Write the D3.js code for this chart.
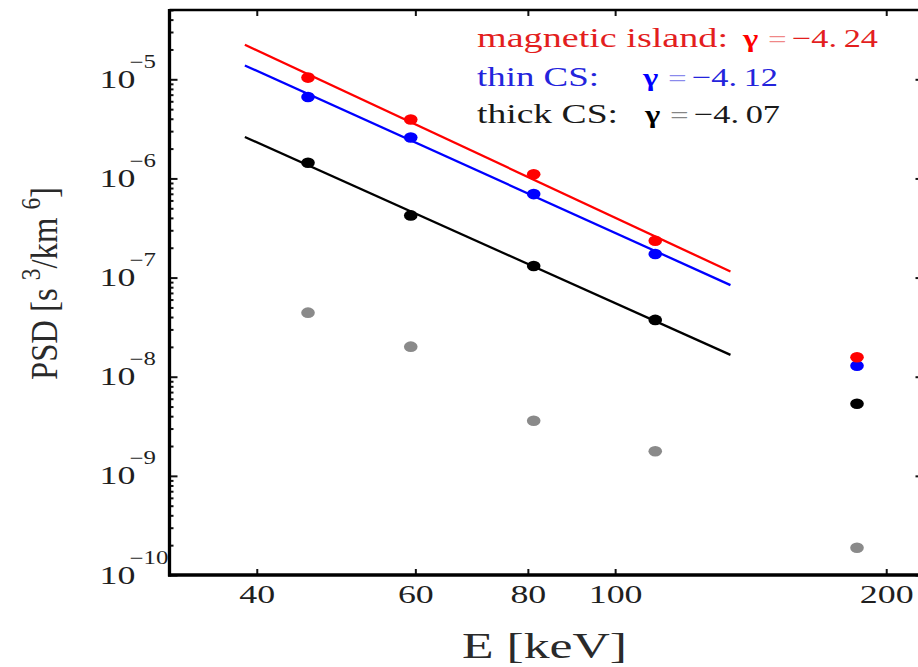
<!DOCTYPE html>
<html>
<head>
<meta charset="utf-8">
<script src="https://cdn.jsdelivr.net/npm/d3@7"></script>
<style>
  body { margin: 0; background: #fff; }
  svg { display: block; }
  text { font-family: "Liberation Serif", "Times New Roman", serif; }
</style>
</head>
<body>
<svg id="chart" width="918" height="667"></svg>
<script>
// channel energies [keV]
const energies = [45.6, 59.3, 81.2, 110.8, 185.6];

// phase space density per region [s^3/km^6]
const islandPSD = [1.04e-5, 3.93e-6, 1.10e-6, 2.35e-7, 1.57e-8];
const thinPSD   = [6.64e-6, 2.59e-6, 6.95e-7, 1.73e-7, 1.29e-8];
const thickPSD  = [1.44e-6, 4.24e-7, 1.31e-7, 3.74e-8, 5.33e-9];
const bgPSD     = [4.43e-8, 2.01e-8, 3.60e-9, 1.77e-9, 1.88e-10];

// power-law fit end points [keV, PSD]
const islandFit = [[38.8, 2.23e-5], [134.3, 1.15e-7]];
const thinFit   = [[38.8, 1.38e-5], [134.3, 8.4e-8]];
const thickFit  = [[38.8, 2.62e-6], [134.3, 1.66e-8]];

const legendNames = ['magnetic island:', 'thin CS:', 'thick CS:'];
const gammaValues = [['−4.', '24'], ['−4.', '12'], ['−4.', '07']];

const xTicks = [40, 60, 80, 100, 200];
const yTicks = [1e-10, 1e-9, 1e-8, 1e-7, 1e-6, 1e-5];

const svg = d3.select('#chart');
const stretch = 1.38; // the figure is wider than tall, glyphs too

const x = d3.scaleLog().domain([32, 220]).range([169.5, 923.5]);
const y = d3.scaleLog().domain([1e-10, 5e-5]).range([575, 10]);

const [x0, x1] = x.range();
const [y0, y1] = y.range();

const series = [
  { psd: islandPSD, fit: islandFit, color: '#ff0000', text: '#e31e1e' },
  { psd: thinPSD, fit: thinFit, color: '#0000ff', text: '#2424dc' },
  { psd: thickPSD, fit: thickFit, color: '#000000', text: '#1a1a1a' }
];

// fit lines
const line = d3.line().x(d => x(d[0])).y(d => y(d[1]));
series.forEach(s => {
  svg.append('path')
    .attr('d', line(s.fit))
    .attr('fill', 'none')
    .attr('stroke', s.color)
    .attr('stroke-width', 2.3);
});

// points
const allSets = [
  { psd: bgPSD, color: '#8a8a8a' },
  { psd: thickPSD, color: '#000' },
  { psd: thinPSD, color: '#0000ff' },
  { psd: islandPSD, color: '#ff0000' }
];
allSets.forEach(s => {
  svg.append('g').selectAll('ellipse')
    .data(energies)
    .enter()
    .append('ellipse')
    .attr('cx', d => x(d))
    .attr('cy', (d, i) => y(s.psd[i]))
    .attr('rx', 6.8)
    .attr('ry', 5.3)
    .attr('fill', s.color);
});

// axes, ticks pointing inward
const minorY = y.ticks().filter(v => !yTicks.includes(v));

function styleTicks(g) {
  g.select('.domain').remove();
  g.selectAll('.tick line').attr('stroke', '#111').attr('stroke-width', 2);
}

svg.append('g').attr('transform', `translate(${x0},0)`)
  .call(d3.axisLeft(y).tickValues(minorY).tickSize(-4).tickFormat(''))
  .call(styleTicks);
const yMajor = svg.append('g').attr('transform', `translate(${x0},0)`)
  .call(d3.axisLeft(y).tickValues(yTicks).tickSize(-8).tickFormat(''))
  .call(styleTicks);

svg.append('g').attr('transform', `translate(${x1},0)`)
  .call(d3.axisRight(y).tickValues(minorY).tickSize(-4).tickFormat(''))
  .call(styleTicks);
svg.append('g').attr('transform', `translate(${x1},0)`)
  .call(d3.axisRight(y).tickValues(yTicks).tickSize(-8).tickFormat(''))
  .call(styleTicks);

svg.append('g').attr('transform', `translate(0,${y1})`)
  .call(d3.axisTop(x).tickValues(xTicks).tickSize(-6).tickFormat(''))
  .call(styleTicks);

const xAxis = svg.append('g').attr('transform', `translate(0,${y0})`)
  .call(d3.axisBottom(x).tickValues(xTicks).tickSize(-6).tickPadding(10).tickFormat(d3.format('d')))
  .call(styleTicks);
xAxis.selectAll('.tick text')
  .attr('font-family', '"Liberation Serif", serif')
  .attr('font-size', 26)
  .attr('fill', '#1f1f1f')
  .attr('transform', `scale(${stretch},1)`);

// y tick labels as 10^n
yMajor.selectAll('.tick').each(function (d) {
  const t = d3.select(this);
  t.append('text')
    .attr('transform', `translate(-70,8) scale(${stretch},1)`)
    .attr('font-size', 26)
    .attr('text-anchor', 'start')
    .attr('fill', '#1f1f1f')
    .text('10');
  t.append('text')
    .attr('transform', `translate(-40,-12) scale(${stretch},1)`)
    .attr('font-size', 18)
    .attr('text-anchor', 'start')
    .attr('fill', '#1f1f1f')
    .text('−' + Math.round(-Math.log10(d)));
});

// frame
const frame = svg.append('g').attr('stroke', '#000');
frame.append('line').attr('x1', x0).attr('x2', x0).attr('y1', y1 - 1).attr('y2', y0 + 1.5).attr('stroke-width', 3.3);
frame.append('line').attr('x1', x0 - 1.5).attr('x2', x1).attr('y1', y0).attr('y2', y0).attr('stroke-width', 3.3);
frame.append('line').attr('x1', x0).attr('x2', x1).attr('y1', y1).attr('y2', y1).attr('stroke-width', 2.7);
frame.append('line').attr('x1', x1).attr('x2', x1).attr('y1', y1).attr('y2', y0).attr('stroke-width', 2.7);

// axis titles
svg.append('text')
  .attr('x', (x0 + x1) / 2 - 2)
  .attr('y', 658)
  .attr('text-anchor', 'middle')
  .attr('font-size', 35)
  .attr('fill', '#2a2a2a')
  .attr('textLength', 165)
  .attr('lengthAdjust', 'spacingAndGlyphs')
  .text('E  [keV]');

const yTitle = svg.append('g')
  .attr('transform', `translate(57,283.5) scale(${stretch},1) rotate(-90)`)
  .append('text')
  .attr('text-anchor', 'middle')
  .attr('font-size', 28)
  .attr('fill', '#2a2a2a')
  .attr('textLength', 193)
  .attr('lengthAdjust', 'spacingAndGlyphs');
yTitle.append('tspan').text('PSD [s ');
yTitle.append('tspan').attr('dy', -12).attr('font-size', 20).text('3');
yTitle.append('tspan').attr('dy', 12).text('/km ');
yTitle.append('tspan').attr('dy', -12).attr('font-size', 20).text('6');
yTitle.append('tspan').attr('dy', 12).text(']');

const legX = 477;
const legY = [47, 86, 123];
const nameWidth = [251, 122, 141];
const gammaX = [743, 643, 645];
series.forEach((s, i) => {
  const ty = legY[i];
  svg.append('text')
    .attr('x', legX)
    .attr('y', ty)
    .attr('font-size', 28)
    .attr('fill', s.text)
    .attr('textLength', nameWidth[i])
    .attr('lengthAdjust', 'spacingAndGlyphs')
    .text(legendNames[i]);
  const gx = gammaX[i];
  svg.append('text')
    .attr('transform', `translate(${gx},${ty}) scale(1.25,1)`)
    .attr('font-size', 26)
    .attr('font-weight', 'bold')
    .attr('fill', s.color)
    .text('γ');
  svg.append('text')
    .attr('transform', `translate(${gx + 25},${ty}) scale(${stretch},1)`)
    .attr('font-size', 24)
    .attr('fill', s.text)
    .attr('fill-opacity', 0.55)
    .text('=');
  const v = svg.append('text')
    .attr('x', gx + 49)
    .attr('y', ty)
    .attr('font-size', 26)
    .attr('fill', s.text)
    .attr('textLength', 86)
    .attr('lengthAdjust', 'spacingAndGlyphs');
  v.append('tspan').text(gammaValues[i][0]);
  v.append('tspan').attr('dx', 5).text(gammaValues[i][1]);
});
</script>
</body>
</html>
